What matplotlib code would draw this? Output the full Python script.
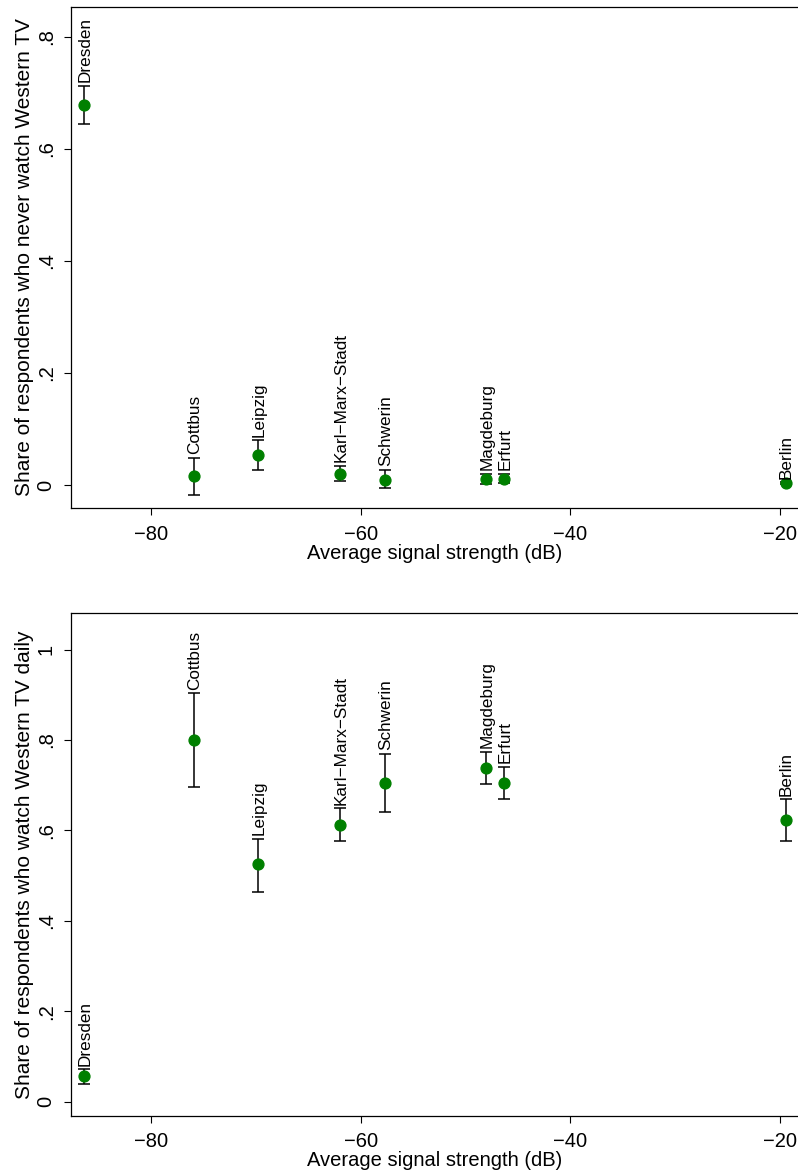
import numpy as np
import matplotlib
matplotlib.use("Agg")
import matplotlib.pyplot as plt

plt.rcParams['font.family'] = ['Liberation Sans', 'DejaVu Sans']

# districts and their average signal strength
cities = ['Dresden', 'Cottbus', 'Leipzig', 'Karl\u2212Marx\u2212Stadt', 'Schwerin',
          'Magdeburg', 'Erfurt', 'Berlin']
signal = [-86.36, -75.87, -69.76, -61.94, -57.68, -48.04, -46.33, -19.45]

# share who never watch Western TV, with CI
never = [0.678, 0.016, 0.054, 0.020, 0.0095, 0.011, 0.011, 0.003]
never_lo = [0.644, -0.017, 0.027, 0.008, -0.005, 0.002, 0.003, 0.001]
never_hi = [0.712, 0.049, 0.080, 0.034, 0.027, 0.020, 0.020, 0.005]

# share who watch Western TV daily, with CI
daily = [0.057, 0.800, 0.525, 0.612, 0.705, 0.737, 0.704, 0.622]
daily_lo = [0.040, 0.696, 0.464, 0.576, 0.641, 0.702, 0.669, 0.577]
daily_hi = [0.072, 0.903, 0.582, 0.649, 0.770, 0.774, 0.741, 0.669]

never_ticks = [0, 0.2, 0.4, 0.6, 0.8]
never_ticklabels = ['0', '.2', '.4', '.6', '.8']
daily_ticks = [0, 0.2, 0.4, 0.6, 0.8, 1.0]
daily_ticklabels = ['0', '.2', '.4', '.6', '.8', '1']
x_ticks = [-80, -60, -40, -20]

fig = plt.figure(figsize=(7.98, 11.74), dpi=100)
ax1 = fig.add_axes([0.0890, 0.5673, 0.9110, 0.4267])
ax2 = fig.add_axes([0.0890, 0.04966, 0.9110, 0.4279])


def panel(ax, y, lo, hi, ylim, ticks, ticklabels, ylabel):
    y = np.array(y)
    lo = np.array(lo)
    hi = np.array(hi)
    ax.errorbar(signal, y, yerr=[y - lo, hi - y], fmt='none', ecolor='black',
                elinewidth=1.1, capsize=4.0, capthick=1.1, zorder=2)
    ax.plot(signal, y, 'o', color='#008000', markersize=7.8, zorder=3)
    for c, xv, h in zip(cities, signal, hi):
        ax.annotate(c, (xv, h), xytext=(0.5, 2.5), textcoords='offset points',
                    rotation=90, ha='center', va='bottom', fontsize=12.3)
    ax.set_xlim(-87.63, -18.28)
    ax.set_ylim(*ylim)
    ax.set_xticks(x_ticks)
    ax.set_yticks(ticks)
    ax.set_yticklabels(ticklabels, rotation=90, va='center')
    ax.tick_params(direction='out', length=5, width=0.8, labelsize=14.5)
    ax.tick_params(axis='x', pad=7)
    ax.tick_params(axis='y', pad=6)
    ax.spines['right'].set_visible(False)
    for s in ['left', 'bottom', 'top']:
        ax.spines[s].set_linewidth(0.9)
    ax.set_xlabel('Average signal strength (dB)', fontsize=14.5, labelpad=0)
    ax.set_ylabel(ylabel, fontsize=15, labelpad=2)


panel(ax1, never, never_lo, never_hi, (-0.041, 0.8526), never_ticks,
      never_ticklabels, 'Share of respondents who never watch Western TV')
panel(ax2, daily, daily_lo, daily_hi, (-0.031, 1.080), daily_ticks,
      daily_ticklabels, 'Share of respondents who watch Western TV daily')

fig.savefig('out.png', dpi=100)
